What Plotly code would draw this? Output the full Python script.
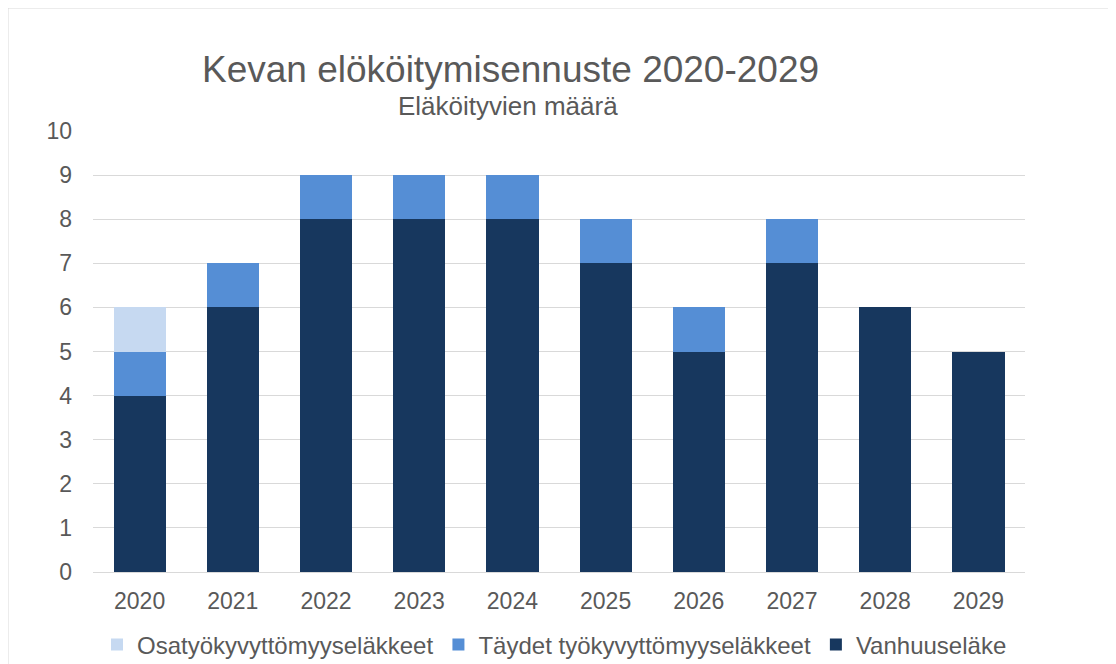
import plotly.graph_objects as go

years = ["2020", "2021", "2022", "2023", "2024", "2025", "2026", "2027", "2028", "2029"]
vanhuus = [4, 6, 8, 8, 8, 7, 5, 7, 6, 5]
taydet = [1, 1, 1, 1, 1, 1, 1, 1, 0, 0]
osa = [1, 0, 0, 0, 0, 0, 0, 0, 0, 0]

names = ["Vanhuuseläke", "Täydet työkyvyttömyyseläkkeet", "Osatyökyvyttömyyseläkkeet"]
colors = ["#17375E", "#558ED5", "#C6D9F1"]
series = [vanhuus, taydet, osa]

W, H = 1116, 664
OFF = 8  # page body margin
PL, PR, PT, PB = 93, 1025, 131, 572  # plot area in screen pixels
L, T = PL - OFF, PT - OFF
R, B = W - (PR - OFF), H - (PB - OFF)
pw, ph = PR - PL, PB - PT


def sx(x):
    return (x - PL) / pw


def sy(y):
    return (PB - y) / ph


fig = go.Figure()
for name, vals, col in zip(names, series, colors):
    fig.add_trace(go.Bar(x=years, y=vals, name=name, marker=dict(color=col, line=dict(width=0))))

gray = "#595959"
fig.update_layout(
    width=W, height=H,
    margin=dict(l=L, r=R, t=T, b=B, autoexpand=False),
    barmode="stack", bargap=0.44,
    plot_bgcolor="white", paper_bgcolor="white",
    font=dict(family="Liberation Sans, Arial, sans-serif", color=gray),
    showlegend=True,
    legend=dict(orientation="h", traceorder="reversed", x=sx(97), xanchor="left",
                y=sy(645), yanchor="middle", font=dict(size=24, color=gray),
                itemwidth=30),
    xaxis=dict(showgrid=False, showline=True, linecolor="#D9D9D9", linewidth=1,
               tickfont=dict(size=23, color=gray), ticklabelstandoff=8),
    yaxis=dict(range=[0, 10], dtick=1, showgrid=True, gridcolor="#D9D9D9", gridwidth=1,
               zeroline=False, tickfont=dict(size=23, color=gray), ticklabelstandoff=20,
               fixedrange=True),
    annotations=[
        dict(text="Kevan elököitymisennuste 2020-2029", xref="paper", yref="paper",
             x=sx(510), y=sy(70), xanchor="center", yanchor="middle",
             showarrow=False, font=dict(size=37, color=gray)),
        dict(text="Eläköityvien määrä", xref="paper", yref="paper",
             x=sx(508), y=sy(106), xanchor="center", yanchor="middle",
             showarrow=False, font=dict(size=26, color=gray)),
    ],
    shapes=[
        dict(type="rect", xref="paper", yref="paper",
             x0=sx(7.5), x1=sx(1130),
             y0=sy(690), y1=sy(7.5),
             line=dict(color="#D9D9D9", width=2), layer="below"),
    ],
)

fig.write_html("out.html")
